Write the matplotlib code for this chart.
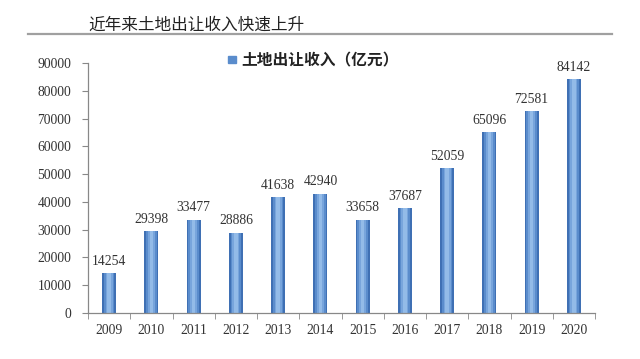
import matplotlib
matplotlib.use("Agg")
import matplotlib.pyplot as plt
import numpy as np

years = ["2009", "2010", "2011", "2012", "2013", "2014", "2015", "2016", "2017", "2018", "2019", "2020"]
values = [14254, 29398, 33477, 28886, 41638, 42940, 33658, 37687, 52059, 65096, 72581, 84142]
yticks = [0, 10000, 20000, 30000, 40000, 50000, 60000, 70000, 80000, 90000]
title = "近年来土地出让收入快速上升"
legend_label = "土地出让收入（亿元）"

cjk = ["Noto Sans CJK SC", "DejaVu Sans"]
serif = ["Liberation Serif", "DejaVu Serif"]
txt = "#333333"
fs = 9.8

fig = plt.figure(figsize=(6.4, 3.59), dpi=100)
ax = fig.add_axes([88/640, 1-313/359, (595-88)/640, 250/359])

x = np.arange(len(years))
w = 0.33
# gradient-like bars: darker edges, lighter center
layers = [(1.0, "#3f70b4"), (0.75, "#5a8ccc"), (0.5, "#78a5dc"), (0.25, "#93bbe8")]
for frac, col in layers:
    ax.bar(x, values, width=w*frac, color=col, edgecolor="none", zorder=2)

for xi, v in zip(x, values):
    ax.annotate(str(v), (xi, v), xytext=(0, 4), textcoords="offset points",
                ha="center", va="bottom", fontsize=fs, family=serif, color=txt)

ax.set_xlim(-0.5, len(years) - 0.5)
ax.set_ylim(0, 90000)
ax.set_yticks(yticks)
ax.set_yticklabels([str(t) for t in yticks], family=serif, fontsize=fs, color=txt)
ax.set_xticks(x)
ax.set_xticklabels(years, family=serif, fontsize=fs, color=txt)
ax.tick_params(axis="x", length=0, pad=8)
ax.set_xticks(np.arange(-0.5, len(years), 1.0), minor=True)
ax.tick_params(axis="x", which="minor", length=4, color="#888888", direction="out")
ax.tick_params(axis="y", length=4, color="#888888", direction="out", pad=8)
for s in ["top", "right"]:
    ax.spines[s].set_visible(False)
for s in ["left", "bottom"]:
    ax.spines[s].set_color("#888888")
    ax.spines[s].set_linewidth(0.9)

# title and separator line
fig.text(88/640, 1-25/359, title, family=cjk, fontsize=12, color="#222222", va="center", ha="left")
fig.add_artist(plt.Line2D([28/640, 612/640], [1-34/359, 1-34/359], color="#a0a0a0", lw=1.6))

# legend
fig.add_artist(plt.Rectangle((228/640, 1-63/359), 8/640, 7/359, color="#5a8ccc", transform=fig.transFigure))
fig.text(241/640, 1-60/359, legend_label, family=cjk, fontsize=11.3, fontweight="bold", color="#222222", va="center", ha="left")

fig.savefig("out.png", dpi=100, facecolor="white")
